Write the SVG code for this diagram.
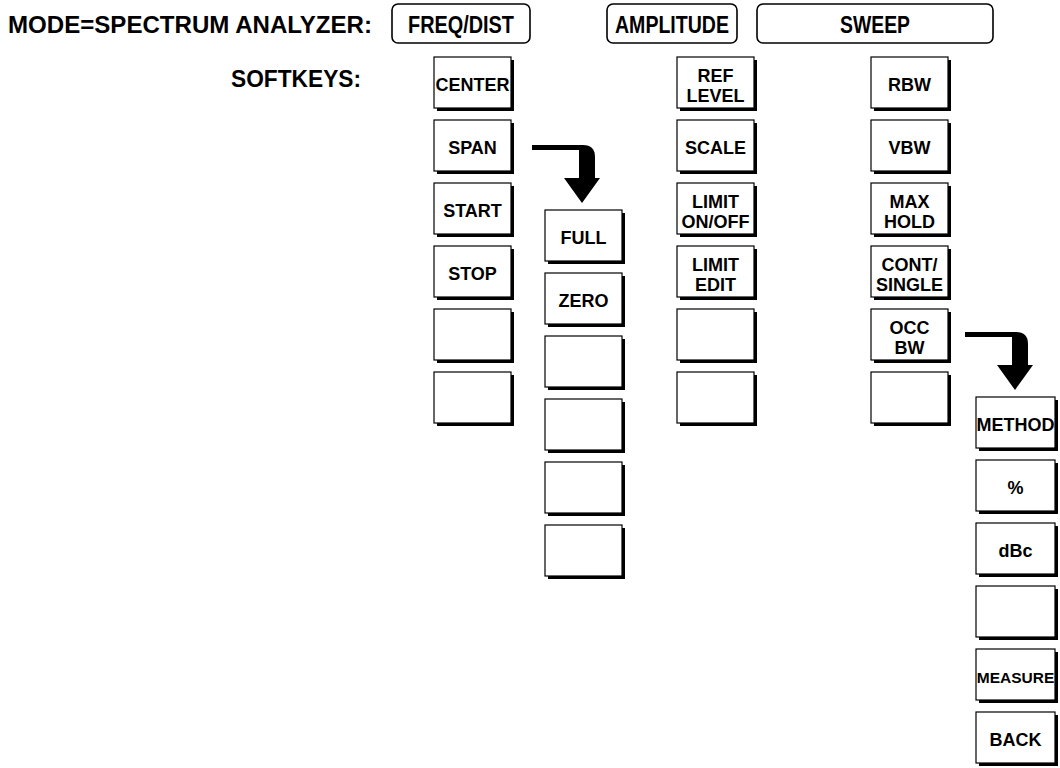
<svg xmlns="http://www.w3.org/2000/svg" width="1060" height="768" viewBox="0 0 1060 768">
<defs>
<style>
text{font-family:"Liberation Sans",Arial,sans-serif;font-weight:bold;fill:#000}
.lbl{font-size:24px}
.hdr{font-size:24px;text-anchor:middle}
.k{font-size:18px;text-anchor:middle}
.km{font-size:15.5px;text-anchor:middle}
.hbox{fill:#fff;stroke:#000;stroke-width:1.6}
.sh{fill:#000}
.kb{fill:#fff;stroke:#000;stroke-width:1.2}
.arr{fill:#000}
</style>
<g id="key">
<rect class="sh" x="3" y="3" width="77" height="51"/>
<rect class="kb" x="0" y="0" width="77" height="51"/>
</g>
<g id="keyw">
<rect class="sh" x="3" y="3" width="79" height="51"/>
<rect class="kb" x="0" y="0" width="79" height="51"/>
</g>
<path id="arrowShape" d="M532,145 L583,145 Q595,145 595,157 L595,178 L600,178 L582,203 L564,178 L579,178 L579,150 L532,150 Z"/>
</defs>
<rect width="1060" height="768" fill="#fff"/>

<g id="labels">
<text class="lbl" x="8" y="33" textLength="364" lengthAdjust="spacingAndGlyphs">MODE=SPECTRUM ANALYZER:</text>
<text class="lbl" x="361" y="87" text-anchor="end" textLength="130" lengthAdjust="spacingAndGlyphs">SOFTKEYS:</text>
</g>

<g id="hdr-freq"><rect class="hbox" x="392" y="4" width="138" height="39" rx="6"/><text class="hdr" x="461" y="33" textLength="106" lengthAdjust="spacingAndGlyphs">FREQ/DIST</text></g>
<g id="hdr-amp"><rect class="hbox" x="607" y="4" width="130" height="39" rx="6"/><text class="hdr" x="672" y="33" textLength="114" lengthAdjust="spacingAndGlyphs">AMPLITUDE</text></g>
<g id="hdr-sweep"><rect class="hbox" x="757" y="4" width="236" height="39" rx="6"/><text class="hdr" x="875" y="33" textLength="70" lengthAdjust="spacingAndGlyphs">SWEEP</text></g>

<g id="connectors">
<use href="#arrowShape" class="arr"/>
<use href="#arrowShape" class="arr" transform="translate(433,187)"/>
</g>

<!-- FREQ/DIST column -->
<g id="k-center" transform="translate(434,57)"><use href="#key"/><text class="k" x="38.5" y="34">CENTER</text></g>
<g id="k-span" transform="translate(434,120)"><use href="#key"/><text class="k" x="38.5" y="34">SPAN</text></g>
<g id="k-start" transform="translate(434,183)"><use href="#key"/><text class="k" x="38.5" y="34">START</text></g>
<g id="k-stop" transform="translate(434,246)"><use href="#key"/><text class="k" x="38.5" y="34">STOP</text></g>
<g id="k-f5" transform="translate(434,309)"><use href="#key"/></g>
<g id="k-f6" transform="translate(434,372)"><use href="#key"/></g>

<!-- SPAN submenu -->
<g id="k-full" transform="translate(545,210)"><use href="#key"/><text class="k" x="38.5" y="34">FULL</text></g>
<g id="k-zero" transform="translate(545,273)"><use href="#key"/><text class="k" x="38.5" y="34">ZERO</text></g>
<g id="k-s3" transform="translate(545,336)"><use href="#key"/></g>
<g id="k-s4" transform="translate(545,399)"><use href="#key"/></g>
<g id="k-s5" transform="translate(545,462)"><use href="#key"/></g>
<g id="k-s6" transform="translate(545,525)"><use href="#key"/></g>

<!-- AMPLITUDE column -->
<g id="k-reflevel" transform="translate(677,57)"><use href="#key"/><text class="k" x="38.5" y="25">REF</text><text class="k" x="38.5" y="45">LEVEL</text></g>
<g id="k-scale" transform="translate(677,120)"><use href="#key"/><text class="k" x="38.5" y="34">SCALE</text></g>
<g id="k-limitonoff" transform="translate(677,183)"><use href="#key"/><text class="k" x="38.5" y="25">LIMIT</text><text class="k" x="38.5" y="45">ON/OFF</text></g>
<g id="k-limitedit" transform="translate(677,246)"><use href="#key"/><text class="k" x="38.5" y="25">LIMIT</text><text class="k" x="38.5" y="45">EDIT</text></g>
<g id="k-a5" transform="translate(677,309)"><use href="#key"/></g>
<g id="k-a6" transform="translate(677,372)"><use href="#key"/></g>

<!-- SWEEP column -->
<g id="k-rbw" transform="translate(871,57)"><use href="#key"/><text class="k" x="38.5" y="34">RBW</text></g>
<g id="k-vbw" transform="translate(871,120)"><use href="#key"/><text class="k" x="38.5" y="34">VBW</text></g>
<g id="k-maxhold" transform="translate(871,183)"><use href="#key"/><text class="k" x="38.5" y="25">MAX</text><text class="k" x="38.5" y="45">HOLD</text></g>
<g id="k-contsingle" transform="translate(871,246)"><use href="#key"/><text class="k" x="38.5" y="25">CONT/</text><text class="k" x="38.5" y="45">SINGLE</text></g>
<g id="k-occbw" transform="translate(871,309)"><use href="#key"/><text class="k" x="38.5" y="25">OCC</text><text class="k" x="38.5" y="45">BW</text></g>
<g id="k-w6" transform="translate(871,372)"><use href="#key"/></g>

<!-- OCC BW submenu -->
<g id="k-method" transform="translate(976,397)"><use href="#keyw"/><text class="k" x="39.5" y="34">METHOD</text></g>
<g id="k-pct" transform="translate(976,460)"><use href="#keyw"/><text class="k" x="39.5" y="34">%</text></g>
<g id="k-dbc" transform="translate(976,523)"><use href="#keyw"/><text class="k" x="39.5" y="34">dBc</text></g>
<g id="k-o4" transform="translate(976,586)"><use href="#keyw"/></g>
<g id="k-measure" transform="translate(976,649)"><use href="#keyw"/><text class="km" x="39.5" y="33.5">MEASURE</text></g>
<g id="k-back" transform="translate(976,712)"><use href="#keyw"/><text class="k" x="39.5" y="34">BACK</text></g>
</svg>
